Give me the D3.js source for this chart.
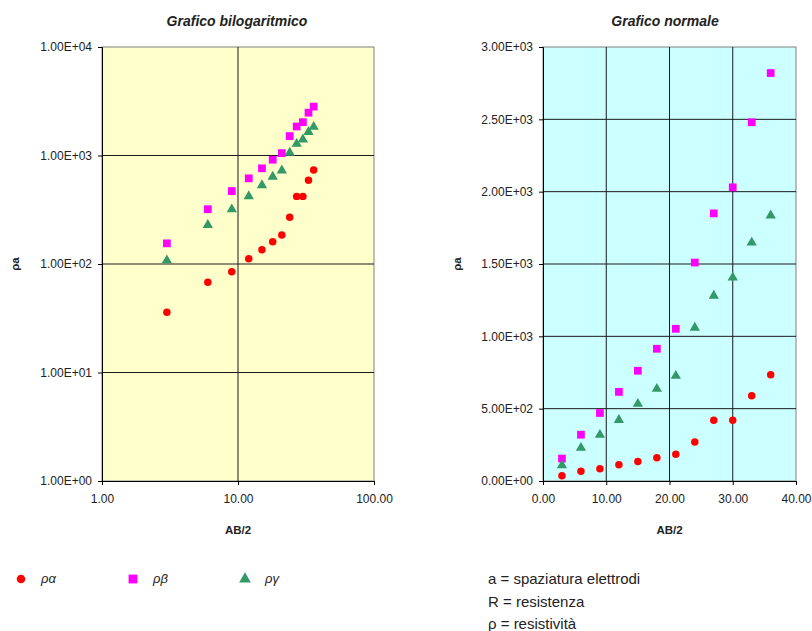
<!DOCTYPE html>
<meta charset="utf-8">
<script src="https://d3js.org/d3.v7.min.js"></script>
<style>
  body { margin: 0; background: #fff; }
  text { font-family: Arial, "Liberation Sans", sans-serif; fill: #222; }
</style>
<svg id="chart" width="812" height="631"></svg>
<script>

// AB/2 distances
var ab2 = [3, 6, 9, 12, 15, 18, 21, 24, 27, 30, 33, 36];
// apparent resistivity series
var rhoA = [36, 68, 85, 112, 135, 160, 185, 270, 420, 420, 590, 735];
var rhoB = [155, 320, 470, 616, 762, 914, 1052, 1510, 1850, 2030, 2480, 2820];
var rhoG = [108, 229, 319, 422, 533, 637, 727, 1060, 1281, 1406, 1648, 1835];

var logXTicks = [1, 10, 100];
var logYTicks = [1, 10, 100, 1000, 10000];
var linXTicks = [0, 10, 20, 30, 40];
var linYTicks = [0, 500, 1000, 1500, 2000, 2500, 3000];

var series = [
  { name: "ρα", values: rhoA, color: "#ff0000", shape: d3.symbolCircle, size: 44 },
  { name: "ρβ", values: rhoB, color: "#ff00ff", shape: d3.symbolSquare, size: 60 },
  { name: "ργ", values: rhoG, color: "#339966", shape: d3.symbolTriangle, size: 46 }
];

var svg = d3.select("#chart");

function sci(v) {
  var e = v === 0 ? 0 : Math.floor(Math.log10(v));
  var m = v / Math.pow(10, e);
  return m.toFixed(2) + "E" + (e < 0 ? "-" : "+") + String(Math.abs(e)).padStart(2, "0");
}

// draw one scatter panel
function panel(opts) {
  var g = svg.append("g");
  var x = opts.x, y = opts.y;
  var r = x.range(), b = y.range();

  g.append("rect")
    .attr("x", r[0]).attr("y", b[1])
    .attr("width", r[1] - r[0]).attr("height", b[0] - b[1])
    .attr("fill", opts.bg)
    .attr("stroke", "#808080");

  // gridlines
  g.selectAll(".gx").data(opts.xTicks.slice(1, -1)).enter().append("line")
    .attr("x1", d => x(d)).attr("x2", d => x(d))
    .attr("y1", b[1]).attr("y2", b[0])
    .attr("stroke", "#1a1a1a").attr("stroke-width", 1);
  g.selectAll(".gy").data(opts.yTicks.slice(1, -1)).enter().append("line")
    .attr("y1", d => y(d)).attr("y2", d => y(d))
    .attr("x1", r[0]).attr("x2", r[1])
    .attr("stroke", "#1a1a1a").attr("stroke-width", 1);

  // axes
  var xa = g.append("g").attr("transform", "translate(0," + b[0] + ")")
    .call(d3.axisBottom(x).tickValues(opts.xTicks).tickSize(4).tickPadding(9)
      .tickFormat(d => d.toFixed(2)));
  var ya = g.append("g").attr("transform", "translate(" + r[0] + ",0)")
    .call(d3.axisLeft(y).tickValues(opts.yTicks).tickSize(4).tickPadding(6)
      .tickFormat(sci));
  [xa, ya].forEach(function(a) {
    a.select(".domain").attr("stroke", "#000");
    a.selectAll("line").attr("stroke", "#000");
    a.selectAll("text").style("font-size", "12px").attr("fill", "#444");
  });

  // titles
  g.append("text")
    .attr("x", opts.titleX).attr("y", 26)
    .attr("text-anchor", "middle")
    .style("font-size", "14px").style("font-weight", "bold").style("font-style", "italic")
    .attr("fill", "#444")
    .text(opts.title);
  g.append("text")
    .attr("x", (r[0] + r[1]) / 2).attr("y", 534)
    .attr("text-anchor", "middle")
    .style("font-size", "11.5px").style("font-weight", "bold")
    .text("AB/2");
  g.append("text")
    .attr("transform", "translate(" + opts.ylabX + "," + ((b[0] + b[1]) / 2) + ") rotate(-90)")
    .attr("text-anchor", "middle")
    .style("font-size", "11.5px").style("font-weight", "bold")
    .text("ρa");

  // markers
  series.forEach(function(s) {
    g.selectAll(null).data(s.values).enter().append("path")
      .attr("d", d3.symbol().type(s.shape).size(s.size))
      .attr("transform", (d, i) => "translate(" + x(ab2[i]) + "," + y(d) + ")")
      .attr("fill", s.color);
  });
}

panel({
  title: "Grafico bilogaritmico",
  bg: "#ffffcc",
  x: d3.scaleLog().domain([1, 100]).range([102, 374]),
  y: d3.scaleLog().domain([1, 10000]).range([481, 47]),
  xTicks: logXTicks, yTicks: logYTicks, ylabX: 19, titleX: 237
});

panel({
  title: "Grafico normale",
  bg: "#ccffff",
  x: d3.scaleLinear().domain([0, 40]).range([543, 796]),
  y: d3.scaleLinear().domain([0, 3000]).range([481, 47]),
  xTicks: linXTicks, yTicks: linYTicks, ylabX: 461, titleX: 665
});

// legend
var leg = svg.append("g");
series.forEach(function(s, i) {
  var lx = 21 + i * 112;
  leg.append("path")
    .attr("d", d3.symbol().type(s.shape).size(s.size * 1.3))
    .attr("transform", "translate(" + lx + ",579)")
    .attr("fill", s.color);
  leg.append("text")
    .attr("x", lx + 20).attr("y", 583)
    .style("font-size", "13px").style("font-style", "italic")
    .attr("fill", "#444")
    .text(s.name);
});

// notes
var notes = ["a = spaziatura elettrodi", "R = resistenza", "ρ = resistività"];
svg.append("g").selectAll("text").data(notes).enter().append("text")
  .attr("x", 488).attr("y", (d, i) => 584 + i * 22.5)
  .style("font-size", "15px")
  .attr("fill", "#333")
  .text(d => d);

</script>
